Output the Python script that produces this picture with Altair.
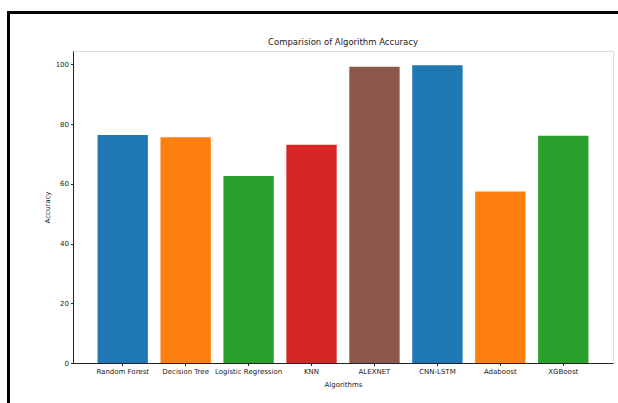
import altair as alt
import pandas as pd

algorithms = ["Random Forest", "Decision Tree", "Logistic Regression", "KNN",
              "ALEXNET", "CNN-LSTM", "Adaboost", "XGBoost"]
accuracy = [76.4, 75.6, 62.6, 73.1, 99.2, 99.7, 57.4, 76.1]
bar_colors = ["#1f77b4", "#ff7f0e", "#2ca02c", "#d62728",
              "#8c564b", "#1f77b4", "#ff7f0e", "#2ca02c"]
y_ticks = [0, 20, 40, 60, 80, 100]
title_text = "Comparision of Algorithm Accuracy"

df = pd.DataFrame({"Algorithms": algorithms, "Accuracy": accuracy})

FONT = "DejaVu Sans"
W, H = 540, 312

bars = alt.Chart(df).mark_bar().encode(
    x=alt.X("Algorithms:N", sort=None,
            scale=alt.Scale(paddingInner=0.2, paddingOuter=0.39),
            axis=alt.Axis(title="Algorithms", labelAngle=0, labelFontSize=7,
                          titleFontSize=7, titleFontWeight="normal",
                          labelColor="#222", titleColor="#222",
                          tickSize=2.5, labelPadding=2, titlePadding=6,
                          domainColor="#222", tickColor="#222")),
    y=alt.Y("Accuracy:Q", scale=alt.Scale(domain=[0, 104.5], nice=False),
            axis=alt.Axis(title="Accuracy", values=y_ticks, grid=False,
                          labelFontSize=7, titleFontSize=7,
                          titleFontWeight="normal", labelColor="#222",
                          titleColor="#222", tickSize=2.5, labelPadding=2,
                          titlePadding=5, domainColor="#222",
                          tickColor="#222")),
    color=alt.Color("Algorithms:N", sort=None,
                    scale=alt.Scale(domain=algorithms, range=bar_colors),
                    legend=None),
)

title = alt.Chart(df).transform_aggregate(n="count()").mark_text(
    text=title_text, fontSize=8.5, fontWeight="normal", color="#222",
    font=FONT, align="center", baseline="middle"
).encode(x=alt.value(W / 2), y=alt.value(-9))

border_top = alt.Chart(df).transform_aggregate(n="count()").mark_rule(
    color="black", strokeWidth=3).encode(
    x=alt.value(-64.5), x2=alt.value(560), y=alt.value(-38.5))
border_left = alt.Chart(df).transform_aggregate(n="count()").mark_rule(
    color="black", strokeWidth=3).encode(
    x=alt.value(-64.5), y=alt.value(-40), y2=alt.value(360))

chart = alt.layer(bars, title, border_top, border_left).properties(
    width=W, height=H,
    autosize=alt.AutoSizeParams(type="none"),
    padding={"left": 73, "top": 51, "right": 5, "bottom": 40},
    background="white",
).configure_view(stroke="#777", strokeWidth=1).configure(font=FONT)

chart.save("out.html", embed_options={"renderer": "svg", "actions": False})
